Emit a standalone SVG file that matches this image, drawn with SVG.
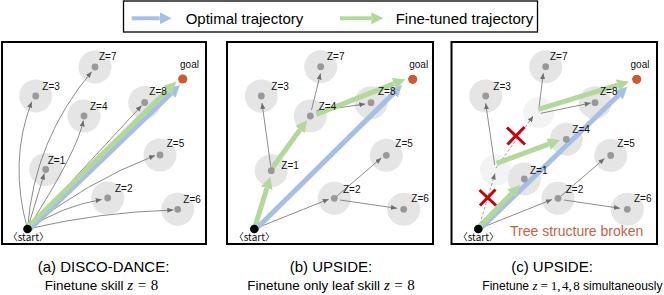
<svg xmlns="http://www.w3.org/2000/svg" width="664" height="295" viewBox="0 0 664 295">
<style>
.frame{fill:#fff;stroke:#000;stroke-width:2}
.halo{fill:#e5e5e5}
.fade{fill:#f3f3f3}
.dot{fill:#999}
.lbl{font-family:"Liberation Sans",Arial,sans-serif;font-size:10px;fill:#111}
.st{font-family:"Noto Sans CJK KR","Liberation Sans",sans-serif;font-size:10px;fill:#111;text-anchor:middle}
.gray{fill:none;stroke:#6e6e6e;stroke-width:0.8;marker-end:url(#ga)}
.dash{fill:none;stroke:#8a8a8a;stroke-width:0.8;stroke-dasharray:3 2;marker-end:url(#ga)}
.blue{stroke:#a7bfe6;stroke-width:5;fill:none;marker-end:url(#ba)}
.green{stroke:#b3d89c;stroke-width:5;fill:none;marker-end:url(#gra)}
.cap{font-family:"Liberation Sans",Arial,sans-serif;font-size:15px;fill:#000;text-anchor:middle}
.cap2{font-family:"Liberation Sans",Arial,sans-serif;font-size:13.5px;fill:#000;text-anchor:middle}
.cap3{font-family:"Liberation Sans",Arial,sans-serif;font-size:12px;fill:#000;text-anchor:end}
.m{font-family:"Liberation Serif","Times New Roman",serif;font-size:15px}
.mi{font-family:"Liberation Serif","Times New Roman",serif;font-size:15px;font-style:italic}
.m3{font-family:"Liberation Serif","Times New Roman",serif;font-size:13px}
.mi3{font-family:"Liberation Serif","Times New Roman",serif;font-size:13px;font-style:italic}
.leg{font-family:"Liberation Sans",Arial,sans-serif;font-size:15px;fill:#000}
.x{stroke:#c8000a;stroke-width:3;stroke-linecap:butt}
</style>
<defs>
<marker id="ga" markerUnits="userSpaceOnUse" markerWidth="7" markerHeight="6" refX="6" refY="2.5" orient="auto"><path d="M0,0 L6,2.5 L0,5 z" fill="#6e6e6e"/></marker>
<marker id="ba" markerUnits="userSpaceOnUse" markerWidth="13" markerHeight="12" refX="0" refY="6" orient="auto"><path d="M0,0 L12,6 L0,12 z" fill="#a7bfe6"/></marker>
<marker id="gra" markerUnits="userSpaceOnUse" markerWidth="13" markerHeight="12" refX="0" refY="6" orient="auto"><path d="M0,0 L12,6 L0,12 z" fill="#b3d89c"/></marker>
</defs>

<g id="legend">
<rect x="123.5" y="1" width="414" height="31" fill="#fff" stroke="#000" stroke-width="1.3"/>
<line x1="131.7" y1="18.3" x2="159.7" y2="18.3" stroke="#a7bfe6" stroke-width="4" marker-end="url(#ba)"/>
<text class="leg" x="185.7" y="24">Optimal trajectory</text>
<line x1="340" y1="18.3" x2="371.3" y2="18.3" stroke="#b3d89c" stroke-width="4" marker-end="url(#gra)"/>
<text class="leg" x="395.7" y="24">Fine-tuned trajectory</text>
</g>

<!-- Panel A -->
<g id="panel-a">
<rect class="frame" x="2" y="42" width="204" height="202"/>
<g id="a-halos">
<circle class="halo" cx="35.7" cy="96" r="16.5"/>
<circle class="halo" cx="95" cy="67" r="16.5"/>
<circle class="halo" cx="84" cy="116" r="16.5"/>
<circle class="halo" cx="144.7" cy="102.5" r="16.5"/>
<circle class="halo" cx="160" cy="155" r="16.5"/>
<circle class="halo" cx="45.7" cy="169.5" r="16.5"/>
<circle class="halo" cx="107.7" cy="198" r="16.5"/>
<circle class="halo" cx="177.7" cy="209.3" r="16.5"/>
</g>
<g id="a-connectors">
<path class="gray" d="M27.5,229 Q8.6,161.6 31.7,101.7"/>
<path class="gray" d="M27.5,229 Q34,140 91.7,71.7"/>
<path class="gray" d="M27.5,229 Q78,150 83.3,120.5"/>
<path class="gray" d="M27.5,229 L44.3,173.5"/>
<path class="gray" d="M27.5,229 L141.7,105.5"/>
<path class="gray" d="M27.5,229 Q86,182 155,155.5"/>
<path class="gray" d="M27.5,229 Q62,206 101.7,199.5"/>
<path class="gray" d="M27.5,229 Q100,212 173.3,210"/>
<line class="blue" x1="29" y1="230" x2="171.3" y2="93.3"/>
<line class="green" x1="27" y1="228" x2="167.9" y2="89.9"/>
</g>
<g id="a-z3"><circle class="dot" cx="35.7" cy="96" r="3.4"/><text class="lbl" x="42.3" y="90.2">Z=3</text></g>
<g id="a-z7"><circle class="dot" cx="95" cy="67" r="3.4"/><text class="lbl" x="99" y="60.2">Z=7</text></g>
<g id="a-z4"><circle class="dot" cx="84" cy="116" r="3.4"/><text class="lbl" x="90" y="110.2">Z=4</text></g>
<g id="a-z8"><circle class="dot" cx="144.7" cy="102.5" r="3.4"/><text class="lbl" x="149.3" y="94.5">Z=8</text></g>
<g id="a-z5"><circle class="dot" cx="160" cy="155" r="3.4"/><text class="lbl" x="166.7" y="146.8">Z=5</text></g>
<g id="a-z1"><circle class="dot" cx="45.7" cy="169.5" r="3.4"/><text class="lbl" x="47.7" y="163.5">Z=1</text></g>
<g id="a-z2"><circle class="dot" cx="107.7" cy="198" r="3.4"/><text class="lbl" x="115" y="191.8">Z=2</text></g>
<g id="a-z6"><circle class="dot" cx="177.7" cy="209.3" r="3.4"/><text class="lbl" x="183.3" y="202.5">Z=6</text></g>
<g id="a-goal"><circle cx="182.7" cy="79" r="4.6" fill="#cc5a35"/><text class="lbl" x="189.5" y="67.8" text-anchor="middle">goal</text></g>
<g id="a-start"><circle cx="27.5" cy="229" r="4.3" fill="#000"/><text class="st" x="28.3" y="241">〈start〉</text></g>
</g>

<!-- Panel B -->
<g id="panel-b">
<rect class="frame" x="227" y="42" width="206" height="202"/>
<g id="b-halos">
<circle class="halo" cx="261.3" cy="96" r="16.5"/>
<circle class="halo" cx="320.7" cy="66.7" r="16.5"/>
<circle class="halo" cx="310.3" cy="116" r="16.5"/>
<circle class="halo" cx="371" cy="102.7" r="16.5"/>
<circle class="halo" cx="386.3" cy="155.3" r="16.5"/>
<circle class="halo" cx="271.3" cy="170.7" r="16.5"/>
<circle class="halo" cx="334.3" cy="198.3" r="16.5"/>
<circle class="halo" cx="403.7" cy="209.3" r="16.5"/>
</g>
<g id="b-connectors">
<path class="gray" d="M271.3,170.7 L262,103"/>
<path class="gray" d="M311.5,110 L320.5,73.5"/>
<path class="gray" d="M316,111 L365.3,104"/>
<path class="gray" d="M254.3,229 L328.7,199.2"/>
<path class="gray" d="M337,196 L381.3,158"/>
<path class="gray" d="M340,200 L397,208.3"/>
<line class="blue" x1="255" y1="230" x2="393.5" y2="93.4"/>
<line class="green" x1="254.3" y1="229" x2="266.8" y2="188.2"/>
<line class="green" x1="272" y1="168.3" x2="300" y2="129.7"/>
<line class="green" x1="316.3" y1="114.3" x2="394.1" y2="83.7"/>
</g>
<g id="b-z3"><circle class="dot" cx="261.3" cy="96" r="3.4"/><text class="lbl" x="271.3" y="90.2">Z=3</text></g>
<g id="b-z7"><circle class="dot" cx="320.7" cy="66.7" r="3.4"/><text class="lbl" x="327" y="60.2">Z=7</text></g>
<g id="b-z4"><circle class="dot" cx="310.3" cy="116" r="3.4"/><text class="lbl" x="318.7" y="110.2">Z=4</text></g>
<g id="b-z8"><circle class="dot" cx="371" cy="102.7" r="3.4"/><text class="lbl" x="378" y="94.5">Z=8</text></g>
<g id="b-z5"><circle class="dot" cx="386.3" cy="155.3" r="3.4"/><text class="lbl" x="395.3" y="146.8">Z=5</text></g>
<g id="b-z1"><circle class="dot" cx="271.3" cy="170.7" r="3.4"/><text class="lbl" x="281.3" y="168.5">Z=1</text></g>
<g id="b-z2"><circle class="dot" cx="334.3" cy="198.3" r="3.4"/><text class="lbl" x="343" y="192.8">Z=2</text></g>
<g id="b-z6"><circle class="dot" cx="403.7" cy="209.3" r="3.4"/><text class="lbl" x="411.3" y="201.8">Z=6</text></g>
<g id="b-goal"><circle cx="412.7" cy="79.3" r="4.6" fill="#cc5a35"/><text class="lbl" x="418.7" y="67.8" text-anchor="middle">goal</text></g>
<g id="b-start"><circle cx="254.3" cy="229" r="4.3" fill="#000"/><text class="st" x="254.3" y="241">〈start〉</text></g>
</g>

<!-- Panel C -->
<g id="panel-c">
<rect class="frame" x="451.5" y="42" width="205.5" height="202"/>
<g id="c-halos">
<circle class="halo" cx="485.7" cy="96" r="16.5"/>
<circle class="halo" cx="545.7" cy="66.7" r="16.5"/>
<circle id="c-z1-old" class="fade" cx="495.5" cy="170" r="15.5"/>
<circle id="c-z4-old" class="fade" cx="538.7" cy="112.5" r="15.5"/>
<circle class="halo" cx="595" cy="102.7" r="16.5"/>
<circle class="halo" cx="566.3" cy="139.3" r="16.5"/>
<circle class="halo" cx="610.7" cy="155.5" r="16.5"/>
<circle class="halo" cx="524.3" cy="179" r="16.5"/>
<circle class="halo" cx="558" cy="198.3" r="16.5"/>
<circle class="halo" cx="627.3" cy="209.3" r="16.5"/>
</g>
<g id="c-connectors">
<path class="dash" d="M478.3,229 L495,173.5"/>
<path class="dash" d="M496,168 L533.3,116"/>
<path class="gray" d="M494.7,165 L485.7,103.3"/>
<path class="gray" d="M539,107.3 L543.3,73.3"/>
<path class="gray" d="M540.7,113.3 L590.7,103"/>
<path class="gray" d="M478.3,229 L552,199.5"/>
<path class="gray" d="M561,196 L604.5,158.5"/>
<path class="gray" d="M564,200 L620,208.3"/>
<line class="blue" x1="479" y1="230" x2="618.7" y2="95"/>
<line class="green" x1="478" y1="228" x2="511.6" y2="193.6"/>
<line class="green" x1="496.7" y1="163.3" x2="548.7" y2="144.1"/>
<line class="green" x1="538.3" y1="109.3" x2="617.5" y2="85.2"/>
<line class="x" x1="479.5" y1="190" x2="496" y2="205.5"/>
<line class="x" x1="480" y1="205.5" x2="495.5" y2="189.5"/>
<line class="x" x1="507" y1="127.5" x2="525" y2="144.5"/>
<line class="x" x1="507.5" y1="144.5" x2="524.5" y2="127"/>
</g>
<g id="c-z3"><circle class="dot" cx="485.7" cy="96" r="3.4"/><text class="lbl" x="493.3" y="90.2">Z=3</text></g>
<g id="c-z7"><circle class="dot" cx="545.7" cy="66.7" r="3.4"/><text class="lbl" x="550" y="60.2">Z=7</text></g>
<g id="c-z8"><circle class="dot" cx="595" cy="102.7" r="3.4"/><text class="lbl" x="600" y="94.5">Z=8</text></g>
<g id="c-z4"><circle class="dot" cx="566.3" cy="139.3" r="3.4"/><text class="lbl" x="572.3" y="132.8">Z=4</text></g>
<g id="c-z5"><circle class="dot" cx="610.7" cy="155.5" r="3.4"/><text class="lbl" x="617.3" y="146.8">Z=5</text></g>
<g id="c-z1"><circle class="dot" cx="524.3" cy="179" r="3.4"/><text class="lbl" x="530" y="173.5">Z=1</text></g>
<g id="c-z2"><circle class="dot" cx="558" cy="198.3" r="3.4"/><text class="lbl" x="565.7" y="192.8">Z=2</text></g>
<g id="c-z6"><circle class="dot" cx="627.3" cy="209.3" r="3.4"/><text class="lbl" x="634" y="201.8">Z=6</text></g>
<g id="c-goal"><circle cx="636.7" cy="79.3" r="4.6" fill="#cc5a35"/><text class="lbl" x="640" y="67.8" text-anchor="middle">goal</text></g>
<g id="c-start"><circle cx="478.3" cy="229" r="4.3" fill="#000"/><text class="st" x="478.3" y="241">〈start〉</text></g>
<text x="510" y="236" font-family="Liberation Sans, Arial, sans-serif" font-size="14" fill="#d0603f">Tree structure broken</text>
</g>

<!-- Captions -->
<g id="captions">
<text class="cap" x="103.5" y="272">(a) DISCO-DANCE:</text>
<text class="cap2" x="101.5" y="289.5">Finetune skill <tspan class="mi">z</tspan><tspan class="m" dx="4.5">=</tspan><tspan class="m" dx="4.5">8</tspan></text>
<text class="cap" x="331" y="272">(b) UPSIDE:</text>
<text class="cap2" x="331" y="289.5">Finetune only leaf skill <tspan class="mi">z</tspan><tspan class="m" dx="4.5">=</tspan><tspan class="m" dx="4.5">8</tspan></text>
<text class="cap" x="552" y="272">(c) UPSIDE:</text>
<text class="cap3" x="662.5" y="289.5">Finetune <tspan class="mi3">z</tspan><tspan class="m3" dx="3">=</tspan><tspan class="m3" dx="3">1,</tspan><tspan class="m3" dx="1.5">4,</tspan><tspan class="m3" dx="1.5">8</tspan> simultaneously</text>
</g>
</svg>
